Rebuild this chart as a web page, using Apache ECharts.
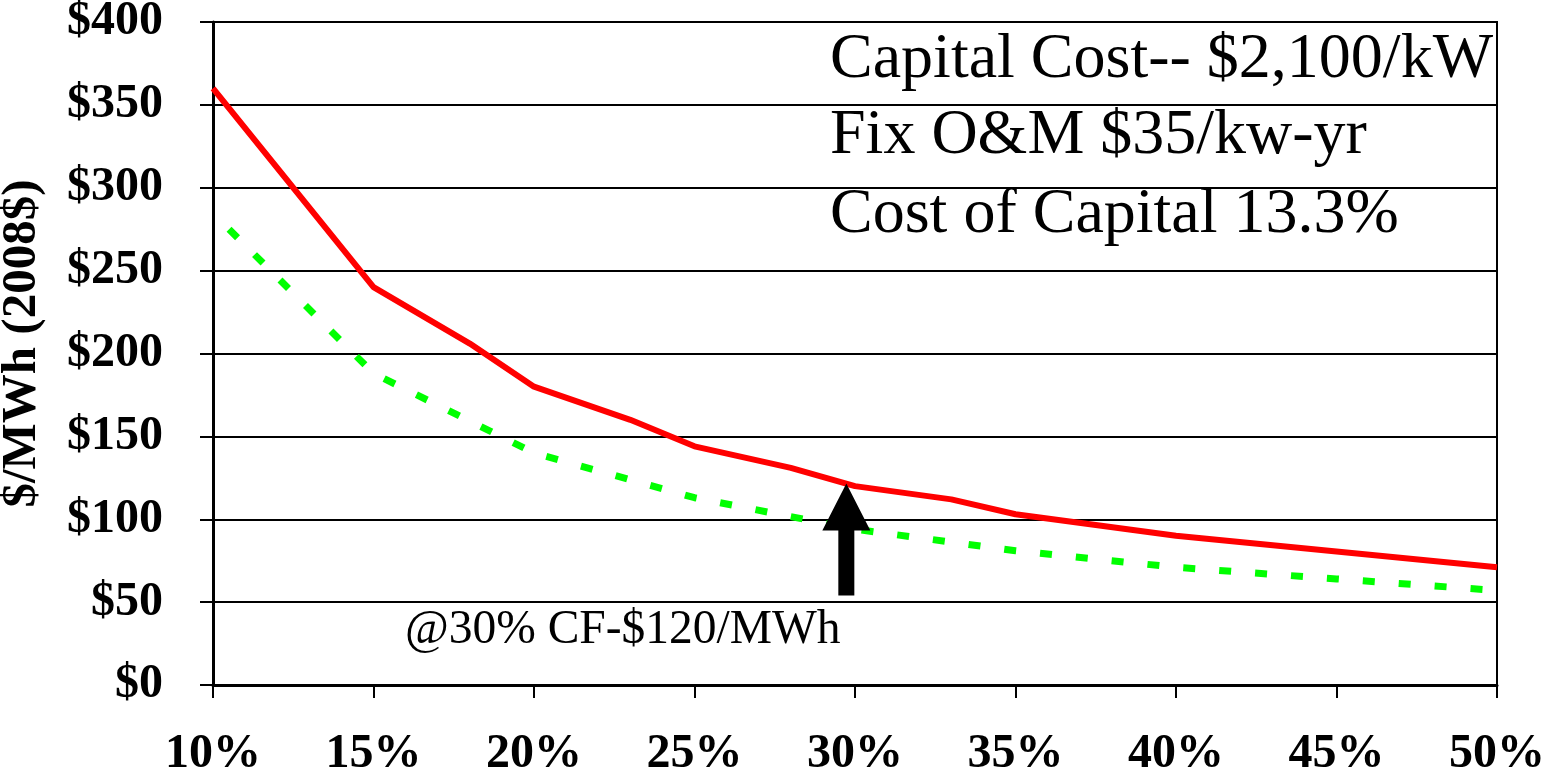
<!DOCTYPE html>
<html>
<head>
<meta charset="utf-8">
<script src="https://cdn.jsdelivr.net/npm/echarts@6/dist/echarts.min.js"></script>
<style>
html,body{margin:0;padding:0;background:#fff;}
#chart{width:1543px;height:772px;}
</style>
</head>
<body>
<div id="chart"></div>
<script>
// Capacity factor (%) and levelized cost ($/MWh, 2008$)
var redX   = [10, 15, 18, 20, 23, 25, 28, 30, 33, 35, 40, 50];
var redY   = [360, 240, 206, 180, 160, 144, 131, 120, 112, 103, 90, 71];
var greenX = [10.5, 15, 20, 25, 30, 35, 40, 45, 50];
var greenY = [275, 188, 140, 113, 94, 81, 71, 64, 57];
// Arrow annotation (x in %, from/to in $/MWh)
var arrowX = 29.73;
var arrowFrom = 54;
var arrowTo = 121.5;
var noteLines = ['Capital Cost-- $2,100/kW', 'Fix O&M $35/kw-yr', 'Cost of Capital 13.3%'];
var arrowNote = '@30% CF-$120/MWh';
var yName = '$/MWh (2008$)';

function pairs(xs, ys){ return xs.map(function(x,i){ return [x, ys[i]]; }); }

var chart = echarts.init(document.getElementById('chart'));
var serif = '"Liberation Serif", "Times New Roman", serif';

var noteTops = [28, 104, 183];
var graphics = noteLines.map(function(t, i){
  return {
    type: 'text', left: 830, top: noteTops[i], z: 10,
    style: { text: t, fill: '#000', font: 'normal 64px ' + serif }
  };
});
graphics.push({
  type: 'text', left: 405, top: 607, z: 10,
  style: { text: arrowNote, fill: '#000', font: 'normal 47.5px ' + serif }
});

chart.setOption({
  animation: false,
  backgroundColor: '#fff',
  grid: { left: 213, right: 46, top: 22, bottom: 87, outerBoundsMode: 'none', containLabel: false,
          show: true, borderColor: '#000', borderWidth: 2, backgroundColor: 'transparent' },
  xAxis: {
    type: 'value', min: 10, max: 50, interval: 5,
    axisLine: { show: true, lineStyle: { color: '#000', width: 3 } },
    axisTick: { show: true, length: 13, lineStyle: { color: '#000', width: 2 } },
    splitLine: { show: false },
    axisLabel: { formatter: '{value}%', color: '#000', fontFamily: serif, fontWeight: 'bold', fontSize: 48, margin: 46 }
  },
  yAxis: {
    type: 'value', min: 0, max: 400, interval: 50,
    name: yName, nameLocation: 'middle', nameGap: 166, nameRotate: 90,
    nameTextStyle: { color: '#000', fontFamily: serif, fontWeight: 'bold', fontSize: 49, padding: [0, 0, 0, 20] },
    axisLine: { show: true, lineStyle: { color: '#000', width: 3 } },
    axisTick: { show: true, length: 13, lineStyle: { color: '#000', width: 2 } },
    splitLine: { show: true, lineStyle: { color: '#000', width: 2 } },
    axisLabel: { formatter: '${value}', color: '#000', fontFamily: serif, fontWeight: 'bold', fontSize: 48, margin: 50 }
  },
  graphic: graphics,
  series: [
    {
      type: 'line', data: pairs(redX, redY), showSymbol: false, symbol: 'none',
      lineStyle: { color: '#ff0000', width: 6 }, z: 3
    },
    {
      type: 'line', data: pairs(greenX, greenY), showSymbol: false, symbol: 'none',
      lineStyle: { color: '#00ff00', width: 7, type: [12, 24], cap: 'butt' }, z: 2
    },
    {
      type: 'custom', z: 5, silent: true,
      data: [[arrowX, arrowFrom, arrowTo]],
      renderItem: function(params, api){
        var base = api.coord([api.value(0), api.value(1)]);
        var tip = api.coord([api.value(0), api.value(2)]);
        var cx = base[0], headH = 47, headW = 24, shaftW = 8;
        var hb = tip[1] + headH;
        return {
          type: 'polygon',
          shape: { points: [
            [cx - shaftW, base[1]], [cx - shaftW, hb], [cx - headW, hb],
            [cx, tip[1]], [cx + headW, hb], [cx + shaftW, hb], [cx + shaftW, base[1]]
          ]},
          style: { fill: '#000' }
        };
      }
    }
  ]
});
</script>
</body>
</html>
